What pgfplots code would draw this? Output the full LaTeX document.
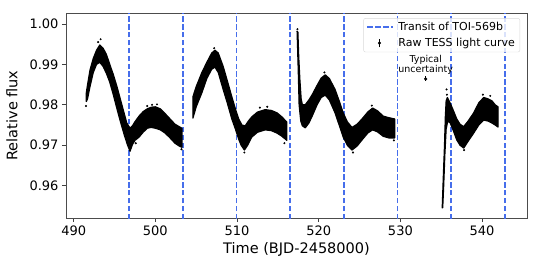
\documentclass[border=0pt]{standalone}
\usepackage{fontspec}
\setmainfont{DejaVu Sans}
\usepackage{pgfplots}
\pgfplotsset{compat=1.18}
\definecolor{tblue}{RGB}{70,110,235}
\tikzset{transit/.style={draw=tblue, line width=1.8pt, dash pattern=on 5.5pt off 2.4pt}}
\begin{document}
\begin{tikzpicture}
\begin{axis}[
  scale only axis, width=461pt, height=205pt,
  xmin=489.06, xmax=545.5, ymin=0.952, ymax=1.0027,
  xtick={490,500,510,520,530,540},
  ytick={0.96,0.97,0.98,0.99,1.00},
  yticklabel style={/pgf/number format/.cd, fixed, fixed zerofill, precision=2},
  /pgf/number format/assume math mode=true,
  tick align=outside, tick pos=left, major tick length=4pt,
  every tick/.style={black!75, line width=0.8pt},
  axis line style={black!70, line width=0.8pt},
  ticklabel style={font=\fontsize{13}{15}\selectfont},
  label style={font=\fontsize{14.5}{17}\selectfont},
  xlabel={Time (BJD-2458000)},
  ylabel={Relative flux},
  ylabel shift=5pt,
  clip=true,
  legend style={at={(0.985,0.975)}, anchor=north east, draw=black!15, rounded corners=2pt,
    fill=white, fill opacity=0.8, text opacity=1, font=\fontsize{11}{13}\selectfont,
    row sep=2pt, inner xsep=3pt, inner ysep=2pt,
    /tikz/every odd column/.append style={column sep=3pt}},
  legend cell align=left,
]
% transit lines
\addplot[transit, forget plot] coordinates {(496.80,0.94) (496.80,1.01)};
\addplot[transit, forget plot] coordinates {(503.37,0.94) (503.37,1.01)};
\addplot[transit, forget plot] coordinates {(509.94,0.94) (509.94,1.01)};
\addplot[transit, forget plot] coordinates {(516.51,0.94) (516.51,1.01)};
\addplot[transit, forget plot] coordinates {(523.08,0.94) (523.08,1.01)};
\addplot[transit, forget plot] coordinates {(529.65,0.94) (529.65,1.01)};
\addplot[transit, forget plot] coordinates {(536.22,0.94) (536.22,1.01)};
\addplot[transit, forget plot] coordinates {(542.79,0.94) (542.79,1.01)};
% light curve segments (envelopes of the raw data band)
\addplot[fill=black, draw=black, line width=1.2pt, line join=round, forget plot] coordinates {
(491.55,0.9830) (491.7,0.9850) (492.0,0.9886) (492.4,0.9915) (492.8,0.9935) (493.2,0.9948) (493.6,0.9940) (494.0,0.9925) (494.5,0.9895) (494.85,0.9875) (495.3,0.9845) (495.7,0.9815) (496.1,0.9785) (496.5,0.9755) (496.9,0.9742) (497.2,0.9748) (497.5,0.9758) (498.0,0.9772) (498.5,0.9783) (499.0,0.9790) (499.5,0.9794) (500.0,0.9795) (500.6,0.9790) (501.2,0.9778) (501.8,0.9765) (502.4,0.9752) (503.0,0.9745) (503.25,0.9742)
(503.25,0.9695) (503.0,0.9697) (502.4,0.9705) (501.8,0.9718) (501.2,0.9730) (500.6,0.9738) (500.0,0.9742) (499.5,0.9744) (499.0,0.9742) (498.5,0.9732) (498.0,0.9720) (497.5,0.9712) (497.2,0.9702) (496.9,0.9685) (496.6,0.9700) (496.2,0.9725) (495.7,0.9760) (495.3,0.9790) (494.85,0.9825) (494.4,0.9857) (494.0,0.9878) (493.6,0.9895) (493.2,0.9905) (492.8,0.9900) (492.4,0.9880) (492.0,0.9845) (491.7,0.9815) (491.55,0.9808)
} -- cycle;
\addplot[fill=black, draw=black, line width=1.2pt, line join=round, forget plot] coordinates {
(504.6,0.9820) (505.0,0.9845) (505.7,0.9880) (506.3,0.9905) (506.9,0.9928) (507.3,0.9935) (507.7,0.9928) (508.3,0.9895) (508.8,0.9860) (509.36,0.9820) (509.8,0.9790) (510.2,0.9765) (510.6,0.9750) (511.0,0.9748) (511.4,0.9760) (511.8,0.9770) (512.5,0.9782) (513.45,0.9788) (514.2,0.9786) (514.9,0.9780) (515.5,0.9770) (516.1,0.9757)
(516.1,0.9712) (515.5,0.9722) (514.9,0.9730) (514.2,0.9736) (513.45,0.9738) (512.5,0.9732) (511.8,0.9720) (511.3,0.9700) (510.9,0.9688) (510.5,0.9700) (510.2,0.9715) (509.8,0.9740) (509.36,0.9765) (508.8,0.9805) (508.3,0.9838) (507.7,0.9880) (507.3,0.9893) (506.9,0.9888) (506.3,0.9865) (505.7,0.9830) (505.0,0.9795) (504.6,0.9767)
} -- cycle;
\addplot[fill=black, draw=black, line width=1.2pt, line join=round, forget plot] coordinates {
(517.35,0.9982) (517.45,0.9980) (517.55,0.9920) (517.7,0.9860) (517.85,0.9815) (518.0,0.9800) (518.35,0.9800) (518.8,0.9812) (519.2,0.9825) (519.8,0.9848) (520.3,0.9866) (520.8,0.9874) (521.3,0.9865) (522.0,0.9838) (522.5,0.9810) (523.0,0.9780) (523.5,0.9758) (524.07,0.9744) (524.7,0.9752) (525.3,0.9765) (526.0,0.9782) (526.6,0.9792) (527.2,0.9785) (527.9,0.9772) (528.6,0.9768) (529.3,0.9765)
(529.3,0.9718) (528.6,0.9718) (527.9,0.9722) (527.2,0.9733) (526.6,0.9738) (526.0,0.9730) (525.3,0.9713) (524.7,0.9698) (524.07,0.9688) (523.5,0.9700) (523.0,0.9720) (522.5,0.9750) (522.0,0.9780) (521.3,0.9812) (520.8,0.9824) (520.3,0.9818) (519.8,0.9800) (519.2,0.9772) (518.8,0.9755) (518.35,0.9743) (518.0,0.9748) (517.8,0.9760) (517.6,0.9800) (517.5,0.9880) (517.4,0.9950) (517.35,0.9982)
} -- cycle;
\addplot[fill=black, draw=black, line width=1.2pt, line join=round, forget plot] coordinates {
(535.12,0.9545) (535.25,0.9620) (535.4,0.9700) (535.5,0.9770) (535.6,0.9810) (535.75,0.9818) (535.9,0.9812) (536.1,0.9804) (536.5,0.9785) (536.9,0.9765) (537.3,0.9752) (537.75,0.9746) (538.3,0.9760) (538.97,0.9780) (539.6,0.9805) (540.2,0.9818) (540.7,0.9815) (541.2,0.9810) (541.6,0.9800) (541.95,0.9795)
(541.95,0.9745) (541.6,0.9750) (541.2,0.9755) (540.7,0.9760) (540.2,0.9762) (539.6,0.9750) (538.97,0.9730) (538.3,0.9710) (537.75,0.9693) (537.3,0.9700) (536.9,0.9713) (536.5,0.9735) (536.1,0.9755) (535.8,0.9760) (535.6,0.9740) (535.45,0.9680) (535.3,0.9600) (535.18,0.9545)
} -- cycle;
% scattered outliers
\addplot[only marks, mark=*, mark size=0.8pt, black, forget plot] coordinates {
(491.5,0.9797) (493.3,0.9962) (493.0,0.9955) (493.8,0.9890) (499.6,0.9800) (500.2,0.9801) (499.0,0.9797) (497.6,0.9705) (503.2,0.9690) (507.2,0.9940) (510.9,0.9682) (512.8,0.9793) (513.7,0.9795) (515.8,0.9705) (517.4,0.9987) (520.7,0.9880) (524.2,0.9682) (526.5,0.9798) (529.2,0.9712) (535.65,0.9838) (535.7,0.9825) (537.8,0.9688) (540.1,0.9825) (541.0,0.9822)
};
% typical uncertainty
\addplot[black, mark=*, mark size=1.4pt, only marks, forget plot,
  error bars/.cd, y dir=both, y explicit, error bar style={line width=1pt}, error mark=none]
  coordinates {(533.1,0.9864) +- (0,0.0006)};
\node[align=center, font=\fontsize{9.5}{10}\selectfont, anchor=south, inner sep=1pt] at (axis cs:533.1,0.98713) {Typical\\uncertainty};
% legend entries
\addlegendimage{legend image code/.code={\draw[transit] (0cm,0cm) -- (0.88cm,0cm);}}
\addlegendentry{Transit of TOI-569b}
\addlegendimage{legend image code/.code={\draw[black, line width=1pt] (0.42cm,-0.15cm) -- (0.42cm,0.15cm); \fill[black] (0.42cm,0cm) circle (1.4pt); \draw[draw=none] (0cm,0cm) -- (0.88cm,0cm);}}
\addlegendentry{Raw TESS light curve}
\end{axis}
\pgfresetboundingbox
\path ([shift={(-66pt,-54pt)}]current axis.south west) rectangle ([shift={(11pt,13pt)}]current axis.north east);
\end{tikzpicture}
\end{document}
